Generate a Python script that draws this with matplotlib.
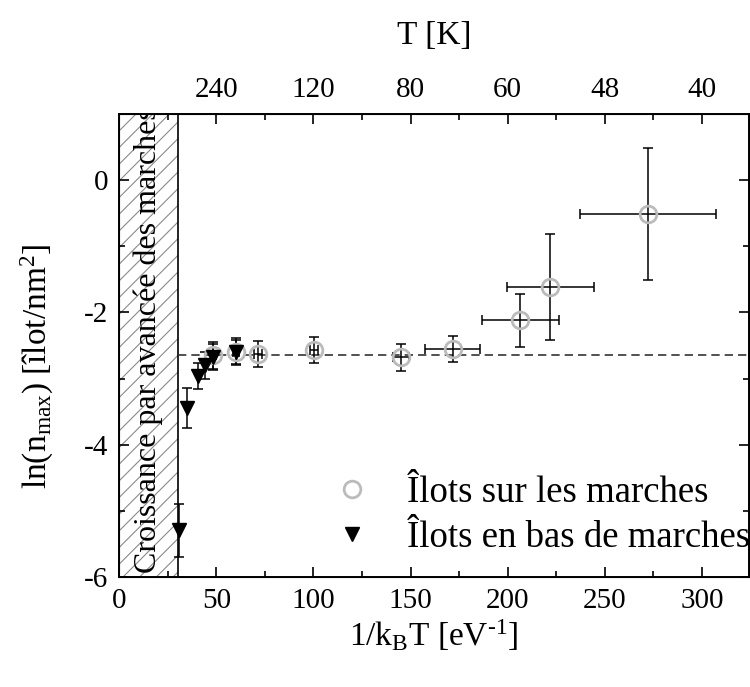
import matplotlib
matplotlib.use('Agg')
import matplotlib.pyplot as plt
from matplotlib.lines import Line2D

# data
# islands on terraces (open grey circles)
x_sur = [48.5, 60.1, 71.3, 100.2, 145.0, 171.6, 206.6, 222.0, 272.4]
y_sur = [-2.65, -2.59, -2.63, -2.57, -2.68, -2.55, -2.12, -1.61, -0.51]
xerr_sur = [1.5, 1.5, 2.0, 2.0, 4.0, 14.0, 20.0, 22.6, 35.0]
yerr_sur = [0.20, 0.20, 0.20, 0.20, 0.21, 0.20, 0.40, 0.80, 1.00]

# islands at step bottoms (filled triangles)
x_bas = [30.7, 35.1, 40.4, 44.2, 48.5, 60.0]
y_bas = [-5.29, -3.44, -2.96, -2.80, -2.67, -2.60]
yerr_bas = [0.40, 0.30, 0.20, 0.20, 0.20, 0.18]

plateau = -2.65
step_limit = 30

top_ticks = [50, 100, 150, 200, 250, 300]
top_labels = ['240', '120', '80', '60', '48', '40']

plt.rcParams['font.family'] = ['Liberation Serif', 'DejaVu Serif']
plt.rcParams['mathtext.fontset'] = 'custom'
plt.rcParams['mathtext.rm'] = 'Liberation Serif'
plt.rcParams['mathtext.it'] = 'Liberation Serif:italic'
plt.rcParams['axes.unicode_minus'] = False
plt.rcParams['hatch.color'] = '#8a8a8a'
plt.rcParams['hatch.linewidth'] = 0.8

fig = plt.figure(figsize=(7.5, 6.87), dpi=100)
ax = fig.add_axes([0.159, 0.160, 0.839, 0.674])

xmin, xmax = 0, 324
ymin, ymax = -6, 1.0

# hatched zone: growth by step advance
ax.axvspan(0, step_limit, facecolor='white', edgecolor='#8a8a8a', hatch='//', lw=0, zorder=0)
ax.axvline(step_limit, color='black', lw=1.2, zorder=1)
ax.text(step_limit / 2, -2.42, 'Croissance par avancée des marches', rotation=90,
        ha='center', va='center', fontsize=23, clip_on=True, zorder=2)

ax.plot([step_limit, xmax], [plateau, plateau], color='#333333', lw=1.2,
        linestyle=(0, (5, 3)), zorder=2)

ax.errorbar(x_sur, y_sur, xerr=xerr_sur, yerr=yerr_sur, fmt='none', ecolor='black',
            elinewidth=1.1, capsize=3.5, capthick=1.1, zorder=3)
ax.plot(x_sur, y_sur, 'o', ms=12, mfc='none', mec='#bbbbbb', mew=2.0, zorder=4)

ax.errorbar(x_bas, y_bas, yerr=yerr_bas, fmt='none', ecolor='black',
            elinewidth=1.1, capsize=3.5, capthick=1.1, zorder=3)
ax.plot(x_bas, y_bas, 'v', ms=10, color='black', zorder=5)

ax.set_xlim(xmin, xmax)
ax.set_ylim(ymin, ymax)
ax.set_xticks([0, 50, 100, 150, 200, 250, 300])
ax.set_xticks(range(25, 325, 50), minor=True)
ax.set_yticks([-6, -4, -2, 0])
ax.set_yticks([-5, -3, -1], minor=True)
ax.tick_params(which='both', direction='in', right=True, width=1.2, labelsize=21, pad=8)
ax.tick_params(which='major', length=7)
ax.tick_params(which='minor', length=4)
for s in ax.spines.values():
    s.set_linewidth(1.4)

ax.set_xlabel(r'1/k$_{\rm B}$T [eV$^{\text{-1}}$]', fontsize=24, labelpad=2)
ax.set_ylabel(r'ln(n$_{\rm max}$) [îlot/nm$^{2}$]', fontsize=24)
ax.yaxis.set_label_coords(-0.10, 0.455)

# top axis in temperature
ax2 = ax.twiny()
ax2.set_xlim(xmin, xmax)
ax2.set_xticks(top_ticks)
ax2.set_xticklabels(top_labels)
ax2.set_xticks(range(25, 325, 50), minor=True)
ax2.tick_params(which='both', direction='in', width=1.2, labelsize=21, pad=8)
ax2.tick_params(which='major', length=7)
ax2.tick_params(which='minor', length=4)
ax2.set_xlabel('T [K]', fontsize=24, labelpad=24)

handles = [
    Line2D([], [], ls='none', marker='o', ms=12, mfc='none', mec='#bbbbbb', mew=2.0),
    Line2D([], [], ls='none', marker='v', ms=10, color='black'),
]
ax.legend(handles, ['Îlots sur les marches', 'Îlots en bas de marches'],
          loc='lower right', bbox_to_anchor=(1.055, -0.024), frameon=False,
          fontsize=26.5, handletextpad=0.8, labelspacing=0.3, handlelength=1.4)

fig.savefig('out.png', dpi=100)
